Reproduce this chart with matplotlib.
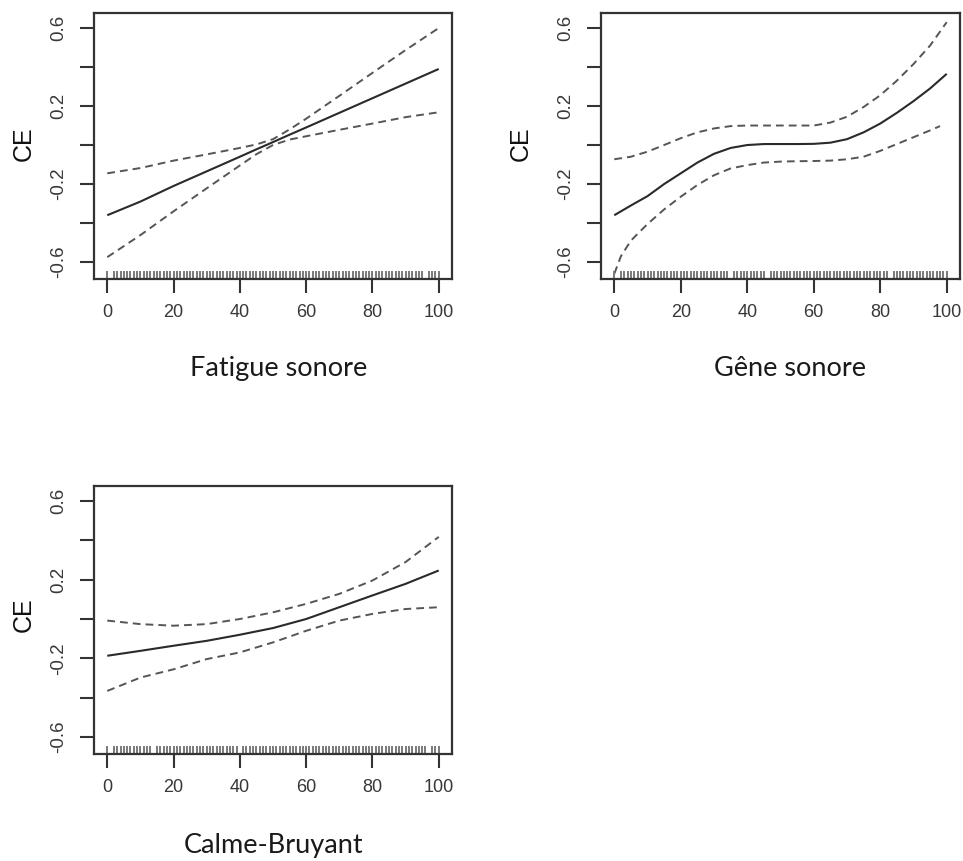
import matplotlib
matplotlib.use("Agg")
import matplotlib.pyplot as plt

# ---------------- data ----------------
xlabels = ["Fatigue sonore", "Gêne sonore", "Calme-Bruyant"]
ylabel = "CE"
yticks = [-0.6, -0.4, -0.2, 0.0, 0.2, 0.4, 0.6]
ytick_labels = ["-0.6", "", "-0.2", "", "0.2", "", "0.6"]
xticks = [0, 20, 40, 60, 80, 100]

# Panel 1: Fatigue sonore
fat_x = [0, 10, 20, 30, 40, 45, 50, 55, 60, 70, 80, 90, 100]
fat_fit = [-0.36, -0.29, -0.21, -0.135, -0.06, -0.022, 0.015, 0.053, 0.09, 0.165, 0.24, 0.315, 0.39]
fat_up = [-0.145, -0.118, -0.08, -0.048, -0.015, 0.003, 0.03, 0.08, 0.135, 0.252, 0.37, 0.487, 0.6]
fat_lo = [-0.575, -0.462, -0.34, -0.222, -0.105, -0.047, 0.0, 0.028, 0.045, 0.078, 0.11, 0.143, 0.168]
fat_rug_gaps = [1, 96]

# Panel 2: Gêne sonore
gene_x = [0, 5, 10, 15, 20, 25, 30, 35, 40, 45, 50, 55, 60, 65, 70, 75, 80, 85, 90, 95, 100]
gene_fit = [-0.36, -0.31, -0.262, -0.2, -0.145, -0.09, -0.045, -0.015, 0.0, 0.005, 0.005,
            0.005, 0.006, 0.012, 0.03, 0.065, 0.11, 0.165, 0.225, 0.29, 0.365]
gene_up = [-0.073, -0.06, -0.034, 0.0, 0.035, 0.065, 0.085, 0.097, 0.1, 0.1, 0.1,
           0.1, 0.1, 0.115, 0.145, 0.195, 0.255, 0.33, 0.415, 0.51, 0.63]
gene_lo_x = [0, 2, 5, 10, 15, 20, 25, 30, 35, 40, 45, 50, 55, 60, 65, 70, 75, 80, 85, 90, 95, 98]
gene_lo = [-0.66, -0.57, -0.49, -0.405, -0.33, -0.265, -0.205, -0.155, -0.12, -0.103, -0.09,
           -0.085, -0.083, -0.082, -0.08, -0.073, -0.06, -0.03, 0.005, 0.04, 0.075, 0.097]
gene_rug_gaps = [1, 35, 46, 83]

# Panel 3: Calme-Bruyant
calme_x = [0, 10, 20, 30, 40, 50, 60, 70, 80, 90, 100]
calme_fit = [-0.187, -0.162, -0.136, -0.111, -0.08, -0.046, 0.0, 0.06, 0.12, 0.179, 0.247]
calme_up = [-0.008, -0.026, -0.034, -0.026, 0.0, 0.034, 0.077, 0.128, 0.196, 0.29, 0.418]
calme_lo = [-0.366, -0.298, -0.256, -0.204, -0.17, -0.119, -0.06, -0.008, 0.026, 0.051, 0.06]
calme_rug_gaps = [1, 14, 40, 97]

rug_values = list(range(0, 101))

# ---------------- figure ----------------
W, H = 963, 861
fig = plt.figure(figsize=(W / 100, H / 100), dpi=100)

def frac(left, top, right, bottom):
    return [left / W, 1 - bottom / H, (right - left) / W, (bottom - top) / H]

boxes = [frac(94, 13, 452, 279), frac(601, 13, 960, 279), frac(94, 486, 452, 754)]
panels = [
    (fat_x, fat_fit, fat_x, fat_up, fat_x, fat_lo, fat_rug_gaps),
    (gene_x, gene_fit, gene_x, gene_up, gene_lo_x, gene_lo, gene_rug_gaps),
    (calme_x, calme_fit, calme_x, calme_up, calme_x, calme_lo, calme_rug_gaps),
]
label_pos = [(279, 368), (790, 368), (274, 845)]
ce_pos = [(24, 144), (521, 144), (24, 615)]

axis_col = "#333333"
text_col = "#383838"

for i, (box, p) in enumerate(zip(boxes, panels)):
    xf, yf, xu, yu, xl, yl, gaps = p
    ax = fig.add_axes(box)
    ax.plot(xf, yf, color="#2a2a2a", lw=1.5, solid_capstyle="butt")
    ax.plot(xu, yu, color="#555555", lw=1.4, dashes=(4, 2.6))
    ax.plot(xl, yl, color="#555555", lw=1.4, dashes=(4, 2.6))
    rug = [v for v in rug_values if v not in gaps]
    ax.vlines(rug, 0, 0.03, transform=ax.get_xaxis_transform(),
              color="#7a7a7a", lw=1.4)
    ax.set_xlim(-4, 104)
    ax.set_ylim(-0.687, 0.677)
    ax.set_xticks(xticks)
    ax.set_xticklabels([str(t) for t in xticks], fontsize=13,
                       family="Liberation Sans", color=text_col)
    ax.set_yticks(yticks)
    ax.set_yticklabels(ytick_labels, fontsize=13.5, family="Liberation Sans",
                       color=text_col, rotation=90, va="center")
    ax.tick_params(axis="both", length=10, width=1.5, color=axis_col)
    ax.tick_params(axis="x", pad=8)
    ax.tick_params(axis="y", pad=9)
    for s in ax.spines.values():
        s.set_linewidth(1.6)
        s.set_color(axis_col)
    lx, ly = label_pos[i]
    fig.text(lx / W, 1 - ly / H, xlabels[i], ha="center", va="center",
             fontsize=19.5, family="Lato", color="#1a1a1a")
    cx, cy = ce_pos[i]
    fig.text(cx / W, 1 - cy / H, ylabel, ha="center", va="center", rotation=90,
             fontsize=18, family="Liberation Sans", color="#111111")

fig.savefig("out.png", dpi=100)
